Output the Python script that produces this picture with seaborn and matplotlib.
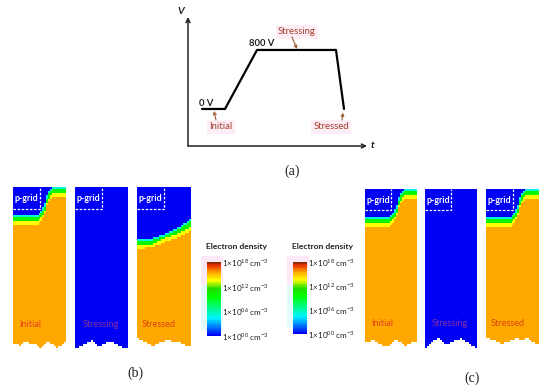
import numpy as np
import pandas as pd
import matplotlib
matplotlib.use('Agg')
import matplotlib.pyplot as plt
from matplotlib.colors import LinearSegmentedColormap
from matplotlib.patches import Rectangle
import seaborn as sns

# waveform in panel (a)
wave_t = [14, 37, 69, 148, 156]
wave_v = [0, 0, 800, 800, 0]

# exponent of the density in each layer of the panels
blue_level, cyan_level, green_level, yellow_level, orange_level = 0, 5, 10, 13.6, 15.5

# layer ends per column (rows counted from the top), pre-stress shape
init_blue = [14, 14, 14, 14, 14, 14, 14, 14, 14, 14, 14, 14, 14, 13, 12, 10, 8, 4, 2, 1, 0, 0, 0, 0, 0, 0, 0]
init_cyan = [15, 15, 15, 15, 15, 15, 15, 15, 15, 15, 15, 15, 15, 14, 13, 12, 10, 6, 3, 2, 1, 1, 1, 1, 1, 1, 1]
init_green = [17, 17, 17, 17, 17, 17, 17, 17, 17, 17, 17, 17, 17, 16, 15, 14, 12, 8, 6, 4, 3, 3, 3, 3, 3, 3, 3]
init_yellow = [19, 19, 19, 19, 19, 19, 19, 19, 19, 19, 19, 19, 19, 18, 17, 15, 13, 9, 7, 6, 5, 5, 5, 5, 5, 5, 5]

# same four for the stressed panel in (b)
stress_blue = [26, 26, 26, 26, 26, 26, 26, 26, 25, 25, 25, 24, 24, 24, 23, 23, 22, 22, 21, 21, 20, 20, 19, 18, 18, 17, 16]
stress_cyan = [27, 27, 27, 27, 27, 27, 27, 27, 26, 26, 26, 25, 25, 25, 24, 24, 23, 23, 22, 22, 21, 21, 20, 19, 19, 18, 17]
stress_green = [29, 29, 29, 29, 29, 29, 29, 29, 28, 28, 27, 27, 26, 26, 25, 25, 25, 24, 24, 24, 23, 23, 22, 22, 21, 21, 20]
stress_yellow = [31, 31, 31, 31, 30, 30, 30, 30, 30, 29, 29, 29, 28, 28, 27, 27, 27, 26, 26, 26, 25, 25, 24, 24, 23, 23, 22]

# jagged lower edge of every panel
b_initial_end = [79, 79, 79, 80, 79, 78, 78, 78, 79, 79, 79, 79, 80, 81, 81, 80, 79, 78, 78, 79, 79, 80, 81, 80, 80, 79, 78]
b_stressing_end = [81, 81, 80, 80, 79, 79, 78, 78, 77, 78, 79, 80, 80, 80, 79, 79, 78, 78, 78, 78, 79, 79, 80, 80, 81, 81, 81]
b_stressed_end = [76, 77, 77, 78, 78, 79, 79, 80, 80, 79, 79, 78, 78, 78, 77, 77, 77, 78, 78, 78, 78, 78, 79, 79, 80, 80, 80]
c_initial_end = [77, 77, 77, 76, 76, 77, 77, 78, 78, 79, 79, 79, 79, 78, 77, 76, 76, 77, 77, 78, 79, 79, 78, 78, 77, 77, 77]
c_stressing_end = [80, 79, 78, 77, 76, 76, 75, 75, 76, 77, 78, 78, 78, 77, 77, 76, 76, 76, 75, 76, 76, 77, 77, 78, 79, 79, 80]
c_stressed_end = [75, 75, 76, 76, 76, 77, 77, 78, 78, 77, 77, 77, 76, 76, 76, 75, 75, 76, 76, 76, 75, 75, 76, 77, 77, 78, 78]

# colour scale
scale_ticks = [18, 12, 6, 0]
scale_labels = ['18', '12', '06', '00']
scale_stops = [0, 4.3, 9.5, 11.5, 13.6, 15.5, 17.3, 18]
scale_colors = ['#0000f5', '#00f5ff', '#00ff00', '#22dd00', '#ffff00', '#ffaa00', '#e83000', '#8f2a00']

W, H = 550, 392

sns.set_theme(style='white')
plt.rcParams['font.family'] = ['Lato', 'DejaVu Sans']
plt.rcParams['mathtext.fontset'] = 'custom'
plt.rcParams['mathtext.rm'] = 'Lato'
plt.rcParams['mathtext.bf'] = 'Lato:bold'

density_cmap = LinearSegmentedColormap.from_list('density', [(s / 18, c) for s, c in zip(scale_stops, scale_colors)], N=256)

fig = plt.figure(figsize=(W / 100, H / 100), dpi=100, facecolor='white')


def box_axes(x0, y0, x1, y1):
    # axes placed from pixel corners of the image
    ax = fig.add_axes([x0 / W, 1 - y1 / H, (x1 - x0) / W, (y1 - y0) / H])
    ax.patch.set_alpha(0)
    return ax


def halo(x0, y0, x1, y1, color):
    # pale compression halos that sit behind the scale bars
    fig.add_artist(Rectangle((x0 / W, 1 - y1 / H), (x1 - x0) / W, (y1 - y0) / H, transform=fig.transFigure,
                             facecolor=color, edgecolor='none', zorder=-1))


def panel(x0, y0, x1, y1, rows, ends, layers, label, label_color, label_x):
    ax = box_axes(x0, y0, x1, y1)
    cols = len(ends)
    grid = np.full((rows, cols), np.nan)
    for c in range(cols):
        grid[:ends[c], c] = orange_level
        if layers is None:
            grid[:ends[c], c] = blue_level
        else:
            grid[:layers[3][c], c] = yellow_level
            grid[:layers[2][c], c] = green_level
            grid[:layers[1][c], c] = cyan_level
            grid[:layers[0][c], c] = blue_level
    sns.heatmap(grid, cmap=density_cmap, vmin=0, vmax=18, cbar=False, xticklabels=False,
                yticklabels=False, ax=ax)
    # dashed p-grid outline, in axes fractions
    ax.plot([0, 0.5, 0.5], [0.865, 0.865, 1], transform=ax.transAxes, color='white',
            lw=0.9, ls=(0, (2, 1.3)), clip_on=False)
    ax.text(0.25, 0.93, 'p-grid', transform=ax.transAxes, color='white', fontsize=6.4,
            fontweight='bold', ha='center', va='center')
    ax.text(label_x, 0.155, label, transform=ax.transAxes, color=label_color, fontsize=6.6,
            ha='center', va='center')


initial_layers = [init_blue, init_cyan, init_green, init_yellow]
stressed_layers = [stress_blue, stress_cyan, stress_green, stress_yellow]

panel(13, 187, 66, 350, 82, b_initial_end, initial_layers, 'Initial', '#e2401c', 0.32)
panel(75, 187, 128, 350, 82, b_stressing_end, None, 'Stressing', '#8a2f9a', 0.48)
panel(137, 187, 191, 350, 82, b_stressed_end, stressed_layers, 'Stressed', '#d9420f', 0.40)
panel(365, 189, 417, 348, 80, c_initial_end, initial_layers, 'Initial', '#e2401c', 0.32)
panel(425, 189, 477, 348, 80, c_stressing_end, None, 'Stressing', '#8a2f9a', 0.47)
panel(486, 189, 539, 348, 80, c_stressed_end, initial_layers, 'Stressed', '#d9420f', 0.40)


def scale_bar(x0, y0, x1, y1, title_x, title_y):
    halo(x0 - 6, y0 - 6, x1 + 2, y0 + 23, '#fdeaf6')
    halo(x0 - 6, y0 + 23, x1 + 2, y1 - 6, '#e3fbff')
    ax = box_axes(x0, y0, x1, y1)
    rows = 90
    levels = np.linspace(18, 0, rows).reshape(-1, 1)
    sns.heatmap(levels, cmap=density_cmap, vmin=0, vmax=18, cbar=False, xticklabels=False,
                yticklabels=False, ax=ax)
    ax.set_yticks([(18 - t) / 18 * rows for t in scale_ticks])
    ax.yaxis.tick_right()
    ax.set_yticklabels([r'1×10$^{%s}$ cm$^{-3}$' % s for s in scale_labels],
                       fontsize=5.9, color='#222222', rotation=0)
    ax.tick_params(axis='y', length=0, pad=1)
    fig.text(title_x / W, 1 - title_y / H, 'Electron density', fontsize=6.1, fontweight='bold',
             color='#222222', ha='center', va='center')


scale_bar(207, 262, 221, 336, 237, 247)
scale_bar(293, 262, 307, 334, 323, 247)

# waveform, panel (a)
wave = pd.DataFrame({'t': wave_t, 'v': wave_v})
ax = box_axes(188, 17, 367, 146)
sns.lineplot(data=wave, x='t', y='v', color='black', lw=1.6, ax=ax, clip_on=False)
ax.set_xlim(0, 179)
ax.set_ylim(-502, 1247)
ax.set_xticks([])
ax.set_yticks([])
ax.set_xlabel('')
ax.set_ylabel('')
for side in ax.spines:
    ax.spines[side].set_visible(False)
ax.annotate('', xy=(1, 0), xytext=(0, 0), xycoords='axes fraction',
            arrowprops=dict(arrowstyle='->', color='#222222', lw=1.1, shrinkA=0, shrinkB=0, mutation_scale=7))
ax.annotate('', xy=(0, 1), xytext=(0, 0), xycoords='axes fraction',
            arrowprops=dict(arrowstyle='->', color='#222222', lw=1.1, shrinkA=0, shrinkB=0, mutation_scale=7))
ax.text(-7, 1315, 'V', fontsize=7.5, fontweight='bold', fontstyle='italic', ha='center', va='center', color='#222222')
ax.text(185, -502, 't', fontsize=7.5, fontweight='bold', fontstyle='italic', ha='center', va='center', color='#222222')
ax.text(18, 81, '0 V', fontsize=6.8, fontweight='bold', ha='center', va='center', color='#222222')
ax.text(74, 881, '800 V', fontsize=6.8, fontweight='bold', ha='center', va='center', color='#222222')

# name, label position, arrow start, arrow tip
notes = [('Initial', 33, -244, 28, -149, 26, -27),
         ('Stressing', 109, 1044, 104, 976, 109, 813),
         ('Stressed', 143, -244, 154, -149, 155, -50)]
for name, tx, ty, sx, sy, px, py in notes:
    ax.text(tx, ty, name, fontsize=6.8, color='#a33b2a', ha='center', va='center',
            bbox=dict(facecolor='#fdeef6', edgecolor='none', pad=1.5))
    ax.annotate('', xy=(px, py), xytext=(sx, sy),
                arrowprops=dict(arrowstyle='->', color='#a05a30', lw=0.8, shrinkA=0, shrinkB=0, mutation_scale=5))

for name, x, y in [('(a)', 292, 171), ('(b)', 135, 373), ('(c)', 472, 378)]:
    fig.text(x / W, 1 - y / H, name, fontsize=10, family='Liberation Serif', ha='center', va='center', color='#222222')

fig.savefig('out.png', dpi=100)
